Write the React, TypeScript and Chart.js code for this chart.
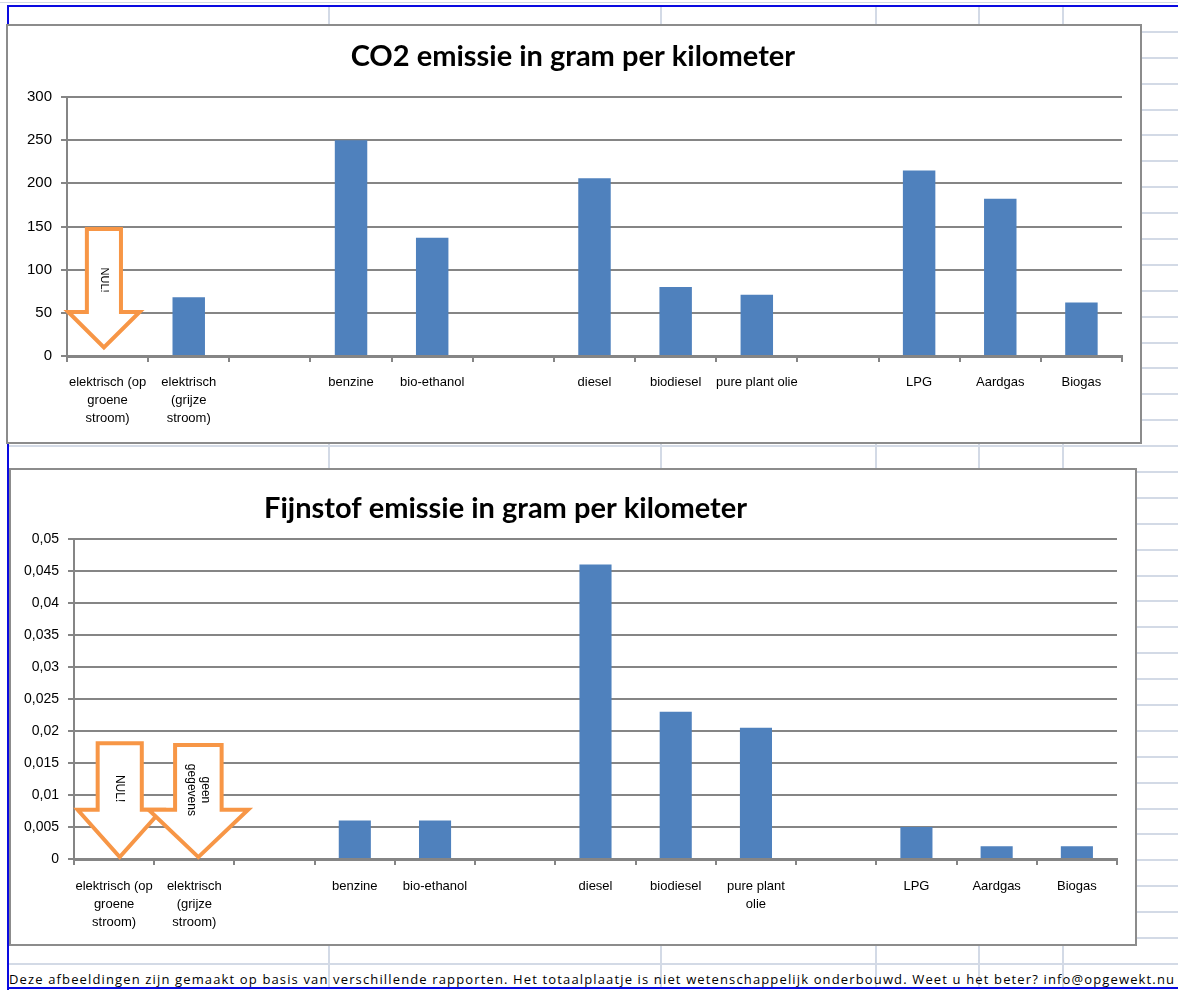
import React, { useEffect, useRef } from "react";
import { Chart, registerables } from "chart.js";

Chart.register(...registerables);

// ---------- data ----------
const co2Categories: (string | string[])[] = [
  ["elektrisch (op", "groene", "stroom)"],
  ["elektrisch", "(grijze", "stroom)"],
  "",
  "benzine",
  "bio-ethanol",
  "",
  "diesel",
  "biodiesel",
  "pure plant olie",
  "",
  "LPG",
  "Aardgas",
  "Biogas",
];
const pmCategories: (string | string[])[] = [
  ["elektrisch (op", "groene", "stroom)"],
  ["elektrisch", "(grijze", "stroom)"],
  "",
  "benzine",
  "bio-ethanol",
  "",
  "diesel",
  "biodiesel",
  ["pure plant", "olie"],
  "",
  "LPG",
  "Aardgas",
  "Biogas",
];
const co2Values = [null, 68, null, 250, 137, null, 206, 80, 71, null, 215, 182, 62];
const pmValues = [null, null, null, 0.006, 0.006, null, 0.046, 0.023, 0.0205, null, 0.005, 0.002, 0.002];

const co2TickMin = 0;
const co2TickMax = 300;
const co2TickStep = 50;
const pmTickMin = 0;
const pmTickMax = 0.05;
const pmTickStep = 0.005;

const co2Title = "CO2 emissie in gram per kilometer";
const pmTitle = "Fijnstof emissie in gram per kilometer";
const footerText =
  "Deze afbeeldingen zijn gemaakt op basis van verschillende rapporten. Het totaalplaatje is niet wetenschappelijk onderbouwd. Weet u het beter? info@opgewekt.nu";

// arrow annotations (category index + values on the y scale)
const co2ArrowLabels = [["NUL!"]];
const co2ArrowIndex = [0];
const co2ArrowTop = [147];
const co2ArrowShoulder = [51];
const co2ArrowTip = [10];
const co2ArrowTextAt = [88];

const pmArrowLabels = [["NUL!"], ["geen", "gegevens"]];
const pmArrowIndex = [0, 1];
const pmArrowTop = [0.0181, 0.0178];
const pmArrowShoulder = [0.0077, 0.0077];
const pmArrowTip = [0.0003, 0.0003];
const pmArrowTextAt = [0.011, 0.0108];

// ---------- styles ----------
const BAR = "#4f81bd";
const GRID = "#858585";
const ORANGE = "#f79646";
const SHEET = "#d3dae6";
const LABEL_FONT = "'Liberation Sans', Arial, sans-serif";

type ArrowGeom = { shift: number; shaft: number; head: number; font: number };

function makeArrowPlugin(
  labels: string[][],
  idx: number[],
  top: number[],
  shoulder: number[],
  tip: number[],
  textAt: number[],
  geom: ArrowGeom[]
) {
  return {
    id: "arrows",
    afterDatasetsDraw(chart: any) {
      const ctx = chart.ctx as CanvasRenderingContext2D;
      const x = chart.scales.x;
      const y = chart.scales.y;
      const slot = x.getPixelForValue(1) - x.getPixelForValue(0);
      ctx.save();
      for (let i = 0; i < idx.length; i++) {
        const g = geom[i];
        const cx = x.getPixelForValue(idx[i]) + g.shift * slot;
        const sw = g.shaft * slot;
        const hw = g.head * slot;
        const yT = y.getPixelForValue(top[i]);
        const yS = y.getPixelForValue(shoulder[i]);
        const yP = y.getPixelForValue(tip[i]);
        ctx.beginPath();
        ctx.moveTo(cx - sw / 2, yT);
        ctx.lineTo(cx + sw / 2, yT);
        ctx.lineTo(cx + sw / 2, yS);
        ctx.lineTo(cx + hw / 2, yS);
        ctx.lineTo(cx, yP);
        ctx.lineTo(cx - hw / 2, yS);
        ctx.lineTo(cx - sw / 2, yS);
        ctx.closePath();
        ctx.fillStyle = "#ffffff";
        ctx.fill();
        ctx.lineWidth = 4;
        ctx.lineJoin = "miter";
        ctx.strokeStyle = ORANGE;
        ctx.stroke();

        const ty = y.getPixelForValue(textAt[i]);
        ctx.save();
        ctx.translate(cx, ty);
        ctx.rotate(Math.PI / 2);
        ctx.fillStyle = "#000";
        ctx.font = `${g.font}px ${LABEL_FONT}`;
        ctx.textAlign = "center";
        ctx.textBaseline = "middle";
        const lines = labels[i];
        const lh = g.font * 1.2;
        lines.forEach((t, k) => {
          ctx.fillText(t, 0, (k - (lines.length - 1) / 2) * lh);
        });
        ctx.restore();
      }
      ctx.restore();
    },
  };
}

function makeTitlePlugin(text: string, xFrac: number, baseline: number, size: number) {
  return {
    id: "sheetTitle",
    afterDraw(chart: any) {
      const ctx = chart.ctx as CanvasRenderingContext2D;
      ctx.save();
      ctx.font = `bold ${size}px Lato, 'Open Sans', sans-serif`;
      ctx.fillStyle = "#000";
      ctx.textAlign = "center";
      ctx.textBaseline = "alphabetic";
      ctx.fillText(text, chart.width * xFrac, baseline);
      ctx.restore();
    },
  };
}

type Cfg = {
  labels: (string | string[])[];
  values: (number | null)[];
  min: number;
  max: number;
  step: number;
  yWidth: number;
  xHeight: number;
  xPad: number;
  padTop: number;
  padRight: number;
  yFont: number;
  fmt: (v: number) => string;
  plugins: any[];
};

function BarChart({ cfg, width, height }: { cfg: Cfg; width: number; height: number }) {
  const ref = useRef<HTMLCanvasElement | null>(null);
  useEffect(() => {
    if (!ref.current) return;
    const chart = new Chart(ref.current, {
      type: "bar",
      data: {
        labels: cfg.labels as any,
        datasets: [
          {
            data: cfg.values as any,
            backgroundColor: BAR,
            borderWidth: 0,
            barPercentage: 0.4,
            categoryPercentage: 1,
          },
        ],
      },
      options: {
        animation: false,
        responsive: false,
        devicePixelRatio: 1,
        layout: { padding: { top: cfg.padTop, right: cfg.padRight, left: 0, bottom: 0 } },
        plugins: { legend: { display: false }, tooltip: { enabled: false }, title: { display: false } },
        scales: {
          x: {
            afterFit: (s: any) => {
              s.height = cfg.xHeight;
            },
            grid: {
              offset: true,
              drawOnChartArea: false,
              drawTicks: true,
              tickLength: 6,
              color: GRID,
              lineWidth: 2,
            },
            border: { display: true, color: GRID, width: 3 },
            ticks: {
              color: "#000",
              autoSkip: false,
              maxRotation: 0,
              minRotation: 0,
              padding: cfg.xPad,
              font: { family: LABEL_FONT, size: 13, lineHeight: 1.4 },
            },
          },
          y: {
            min: cfg.min,
            max: cfg.max,
            afterFit: (s: any) => {
              s.width = cfg.yWidth;
            },
            grid: { color: GRID, lineWidth: 2, tickLength: 6, drawTicks: true },
            border: { display: true, color: GRID, width: 2 },
            ticks: {
              stepSize: cfg.step,
              color: "#000",
              padding: 9,
              font: { family: LABEL_FONT, size: cfg.yFont },
              callback: (v: any) => cfg.fmt(Number(v)),
            },
          },
        },
      },
      plugins: cfg.plugins,
    });
    return () => chart.destroy();
  }, []);
  return <canvas ref={ref} width={width} height={height} style={{ display: "block" }} />;
}

const co2Cfg: Cfg = {
  labels: co2Categories,
  values: co2Values,
  min: co2TickMin,
  max: co2TickMax,
  step: co2TickStep,
  yWidth: 59,
  xHeight: 86,
  xPad: 11,
  padTop: 71,
  padRight: 18,
  yFont: 15,
  fmt: (v) => String(Math.round(v)),
  plugins: [
    makeTitlePlugin(co2Title, 0.499, 40, 29),
    makeArrowPlugin(co2ArrowLabels, co2ArrowIndex, co2ArrowTop, co2ArrowShoulder, co2ArrowTip, co2ArrowTextAt, [
      { shift: -0.045, shaft: 0.42, head: 0.88, font: 11 },
    ]),
  ],
};

const pmCfg: Cfg = {
  labels: pmCategories,
  values: pmValues,
  min: pmTickMin,
  max: pmTickMax,
  step: pmTickStep,
  yWidth: 63,
  xHeight: 85,
  xPad: 12,
  padTop: 69,
  padRight: 18,
  yFont: 14,
  fmt: (v) => String(Number(v.toFixed(3))).replace(".", ","),
  plugins: [
    makeTitlePlugin(pmTitle, 0.44, 48, 29),
    makeArrowPlugin(pmArrowLabels, pmArrowIndex, pmArrowTop, pmArrowShoulder, pmArrowTip, pmArrowTextAt, [
      { shift: 0.07, shaft: 0.55, head: 1.05, font: 12 },
      { shift: 0.05, shaft: 0.58, head: 1.24, font: 12 },
    ]),
  ],
};

const sheetColumns = [328, 660, 875, 978, 1062];
const sheetRowCount = 37;
const sheetRowTop = 5;
const sheetRowHeight = 25.89;

export default function App() {
  const rows = Array.from({ length: sheetRowCount }, (_, i) => sheetRowTop + (i + 1) * sheetRowHeight);
  return (
    <div
      style={{
        position: "fixed",
        left: 0,
        top: 0,
        width: 1178,
        height: 990,
        background: "#fff",
        overflow: "hidden",
      }}
    >
      {/* spreadsheet grid */}
      {sheetColumns.map((x) => (
        <div key={"c" + x} style={{ position: "absolute", left: x, top: 5, width: 2, height: 983, background: SHEET }} />
      ))}
      {rows.map((y) => (
        <div key={"r" + y} style={{ position: "absolute", left: 7, top: Math.round(y), width: 1171, height: 2, background: SHEET }} />
      ))}
      <div style={{ position: "absolute", left: 0, top: 2, width: 1178, height: 1, background: SHEET }} />
      {/* blue selection border */}
      <div style={{ position: "absolute", left: 7, top: 5, width: 1171, height: 2, background: "#0a0ae0" }} />
      <div style={{ position: "absolute", left: 7, top: 5, width: 2, height: 985, background: "#0a0ae0" }} />
      <div style={{ position: "absolute", left: 7, top: 987, width: 1171, height: 2, background: "#0a0ae0" }} />

      {/* chart 1 */}
      <div
        style={{
          position: "absolute",
          left: 6,
          top: 24,
          width: 1136,
          height: 420,
          border: "2px solid #8c8c8c",
          boxSizing: "border-box",
          background: "#fff",
        }}
      >
        <BarChart cfg={co2Cfg} width={1132} height={416} />
      </div>

      {/* chart 2 */}
      <div
        style={{
          position: "absolute",
          left: 9,
          top: 468,
          width: 1128,
          height: 478,
          border: "2px solid #8c8c8c",
          boxSizing: "border-box",
          background: "#fff",
        }}
      >
        <BarChart cfg={pmCfg} width={1124} height={474} />
      </div>

      {/* footer */}
      <svg
        width={1178}
        height={26}
        style={{ position: "absolute", left: 0, top: 963, display: "block" }}
      >
        <text
          x={9}
          y={21}
          textLength={1165}
          lengthAdjust="spacing"
          style={{ fontFamily: "'Open Sans', 'Noto Sans', sans-serif", fontSize: 13, fill: "#000" }}
        >
          {footerText}
        </text>
      </svg>
    </div>
  );
}
